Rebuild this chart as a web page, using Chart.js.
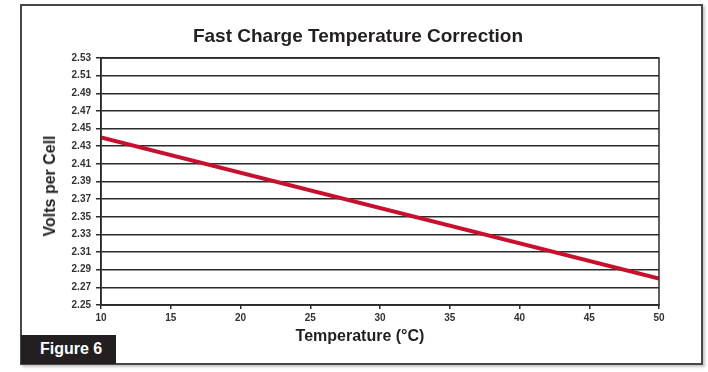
<!DOCTYPE html>
<html>
<head>
<meta charset="utf-8">
<script src="https://cdn.jsdelivr.net/npm/chart.js@4.4.0/dist/chart.umd.min.js"></script>
<style>
    body { margin: 0; background: #fff; font-family: "Liberation Sans", Arial, sans-serif; }
    #wrap { position: relative; width: 708px; height: 372px; overflow: hidden; }
    #frame {
        position: absolute; left: 20px; top: 4px; width: 679px; height: 357px;
        border: 2px solid #474747; box-shadow: 2px 2px 2px #c8c8c8;
    }
    #chart { position: absolute; left: 0; top: 0; }
    .txt { position: absolute; font-weight: bold; color: #231f20; white-space: nowrap; }
    #title { left: 0; width: 716px; top: 25px; text-align: center; font-size: 19px; }
    #xTitle { left: 0; width: 720px; top: 327px; text-align: center; font-size: 16px; }
    #yTitle { left: 50px; top: 186px; font-size: 16px; transform: translate(-50%, -50%) rotate(-90deg); }
    #figLabel {
        position: absolute; left: 21px; top: 335px; width: 95px; height: 29px;
        background: #231f20; color: #fff; font-weight: bold; font-size: 16px;
        line-height: 28px; padding-left: 19px; box-sizing: border-box;
    }
</style>
</head>
<body>
<div id="wrap">
    <div id="frame"></div>
    <canvas id="chart" width="708" height="372"></canvas>
    <div class="txt" id="title">Fast Charge Temperature Correction</div>
    <div class="txt" id="yTitle">Volts per Cell</div>
    <div class="txt" id="xTitle">Temperature (°C)</div>
    <div id="figLabel">Figure 6</div>
</div>
<script>
// Data
const temperatures = [10, 50];
const voltsPerCell = [2.44, 2.28];
const xTicks = [10, 15, 20, 25, 30, 35, 40, 45, 50];
const yTicks = [2.25, 2.27, 2.29, 2.31, 2.33, 2.35, 2.37, 2.39, 2.41, 2.43, 2.45, 2.47, 2.49, 2.51, 2.53];

// outline the plot area (right edge has no axis of its own)
const plotBox = {
    id: 'plotBox',
    afterDraw(chart) {
        const { ctx, chartArea: a } = chart;
        ctx.save();
        ctx.strokeStyle = '#2b2b2b';
        ctx.lineWidth = 1.5;
        ctx.strokeRect(a.left, a.top, a.right - a.left, a.bottom - a.top);
        ctx.restore();
    }
};

const tickFont = { family: '"Liberation Sans", Arial, sans-serif', size: 10, weight: 'bold' };

new Chart(document.getElementById('chart'), {
    type: 'line',
    data: {
        datasets: [{
            data: temperatures.map((t, i) => ({ x: t, y: voltsPerCell[i] })),
            borderColor: '#c8102e',
            borderWidth: 4,
            pointRadius: 0,
            fill: false
        }]
    },
    options: {
        responsive: false,
        animation: false,
        layout: { padding: { top: 58, right: 49, left: 0, bottom: 0 } },
        plugins: { legend: { display: false }, tooltip: { enabled: false } },
        scales: {
            x: {
                type: 'linear',
                min: 10,
                max: 50,
                afterFit: (s) => { s.height = 67; },
                afterBuildTicks: (s) => { s.ticks = xTicks.map(v => ({ value: v })); },
                grid: { drawOnChartArea: false, color: '#2b2b2b', lineWidth: 1.5, tickLength: 4 },
                border: { color: '#2b2b2b', width: 1.5 },
                ticks: { color: '#333', font: tickFont, padding: 3, maxRotation: 0 }
            },
            y: {
                min: 2.25,
                max: 2.53,
                afterFit: (s) => { s.width = 101; },
                afterBuildTicks: (s) => { s.ticks = yTicks.map(v => ({ value: v })); },
                grid: { color: '#2b2b2b', lineWidth: 1.5, tickLength: 5 },
                border: { color: '#2b2b2b', width: 1.5 },
                ticks: { color: '#333', font: tickFont, padding: 5, callback: (v) => v.toFixed(2) }
            }
        }
    },
    plugins: [plotBox]
});
</script>
</body>
</html>
